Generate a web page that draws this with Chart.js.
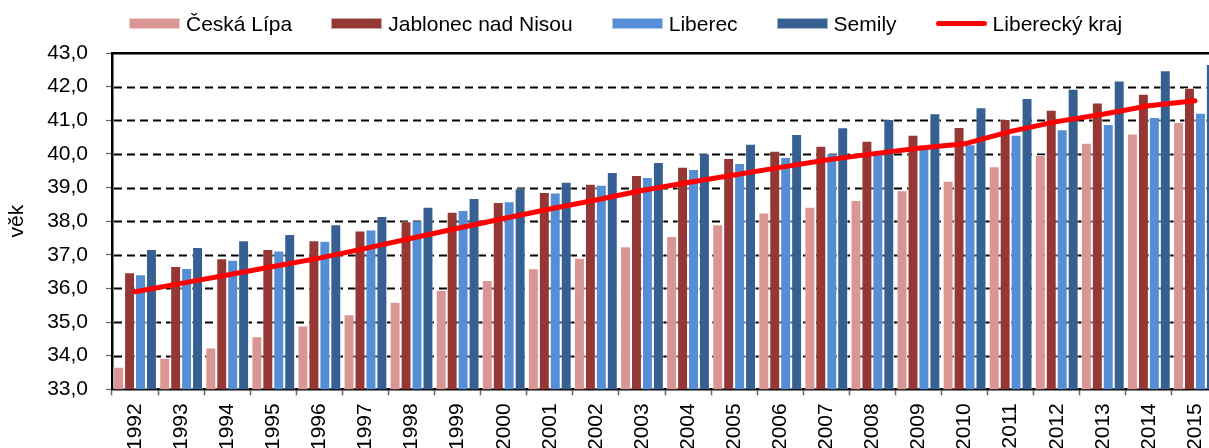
<!DOCTYPE html>
<html lang="cs">
<head>
<meta charset="utf-8">
<title>Průměrný věk</title>
<script src="https://cdn.jsdelivr.net/npm/chart.js@4.4.1/dist/chart.umd.min.js"></script>
<style>
  html, body { margin: 0; padding: 0; background: #fff; overflow: hidden; }
  #wrap { position: relative; width: 1240px; height: 460px; }
  #legend {
    position: absolute; left: 129px; top: 13px;
    display: flex; align-items: center; white-space: nowrap;
    font: 21px "Liberation Sans", Arial, sans-serif; line-height: 21px; color: #000;
  }
  #legend .item { display: flex; align-items: center; margin-right: 39px; }
  #legend .item:last-child { margin-right: 0; }
  #legend .box { display: inline-block; width: 51px; height: 11px; box-sizing: border-box; margin-right: 6px; }
</style>
</head>
<body>
<div id="wrap">
  <canvas id="vekChart" width="1240" height="460"></canvas>
  <div id="legend"></div>
</div>
<script>
const years = ['1992', '1993', '1994', '1995', '1996', '1997', '1998', '1999', '2000', '2001', '2002', '2003',
  '2004', '2005', '2006', '2007', '2008', '2009', '2010', '2011', '2012', '2013', '2014', '2015'];

const ceskaLipa = [33.67, 33.94, 34.24, 34.58, 34.90, 35.23, 35.60, 35.96, 36.25, 36.60, 36.91, 37.25,
  37.56, 37.91, 38.26, 38.43, 38.63, 38.92, 39.20, 39.63, 39.97, 40.33, 40.61, 40.95];
const jablonec = [36.48, 36.67, 36.90, 37.17, 37.43, 37.72, 38.00, 38.28, 38.57, 38.87, 39.11, 39.37,
  39.62, 39.88, 40.09, 40.24, 40.39, 40.57, 40.80, 41.04, 41.31, 41.53, 41.79, 41.97];
const liberec = [36.42, 36.61, 36.85, 37.13, 37.42, 37.75, 38.02, 38.33, 38.59, 38.85, 39.08, 39.31,
  39.55, 39.73, 39.91, 40.02, 40.09, 40.20, 40.29, 40.57, 40.73, 40.89, 41.10, 41.22];
const semily = [37.17, 37.23, 37.43, 37.62, 37.91, 38.15, 38.43, 38.69, 38.98, 39.17, 39.46, 39.76,
  40.02, 40.30, 40.59, 40.79, 41.04, 41.21, 41.39, 41.66, 41.94, 42.18, 42.49, 42.67];
const libereckyKraj = [35.90, 36.15, 36.40, 36.65, 36.90, 37.19, 37.49, 37.79, 38.08, 38.36, 38.63, 38.91,
  39.15, 39.37, 39.60, 39.82, 40.00, 40.17, 40.30, 40.67, 40.96, 41.18, 41.43, 41.58];

const yMin = 33;
const yMax = 43;

const FONT = '"Liberation Sans", Arial, sans-serif';
Chart.defaults.font.family = FONT;
Chart.defaults.font.size = 21;
Chart.defaults.color = '#000';

function barSet(label, data, color) {
  return {
    type: 'bar',
    label: label,
    data: data,
    backgroundColor: color,
    borderColor: 'rgba(255, 255, 255, 0.55)',
    borderWidth: 1,
    barPercentage: 1.0,
    categoryPercentage: 0.95,
    order: 1
  };
}

const datasets = [
  barSet('Česká Lípa', ceskaLipa, '#D99694'),
  barSet('Jablonec nad Nisou', jablonec, '#953735'),
  barSet('Liberec', liberec, '#558ED5'),
  barSet('Semily', semily, '#376092'),
  {
    type: 'line',
    label: 'Liberecký kraj',
    data: libereckyKraj,
    borderColor: '#FF0000',
    borderWidth: 5,
    borderCapStyle: 'round',
    borderJoinStyle: 'round',
    pointRadius: 0,
    tension: 0,
    fill: false,
    order: 0
  }
];

// dashed horizontal grid, drawn under the bars
const dashedGrid = {
  id: 'dashedGrid',
  beforeDatasetsDraw(ch) {
    const {ctx, chartArea} = ch;
    const y = ch.scales.y;
    ctx.save();
    ctx.strokeStyle = '#000';
    ctx.lineWidth = 1.8;
    ctx.setLineDash([8, 5]);
    y.ticks.forEach(t => {
      if (t.value <= yMin || t.value >= yMax) return;
      const py = Math.round(y.getPixelForValue(t.value)) + 0.5;
      ctx.beginPath();
      ctx.moveTo(chartArea.left + 2, py);
      ctx.lineTo(chartArea.right, py);
      ctx.stroke();
    });
    ctx.restore();
  }
};

const chart = new Chart(document.getElementById('vekChart').getContext('2d'), {
  data: { labels: years, datasets: datasets },
  plugins: [dashedGrid],
  options: {
    responsive: false,
    animation: false,
    layout: { padding: { top: 53, right: 22, bottom: 0, left: 0 } },
    plugins: {
      legend: { display: false },
      tooltip: { enabled: false }
    },
    scales: {
      x: {
        position: 'bottom',
        offset: true,
        grid: { offset: true, drawOnChartArea: false, drawTicks: true, tickLength: 6, tickColor: '#666', tickWidth: 1.5 },
        border: { display: true, color: '#000', width: 2.5 },
        ticks: { autoSkip: false, minRotation: 90, maxRotation: 90, padding: 8, color: '#000' },
        afterFit: scale => { scale.height = 70.7; }
      },
      xTop: {
        type: 'category',
        position: 'top',
        grid: { display: false, drawTicks: false },
        ticks: { display: false },
        border: { display: true, color: '#000', width: 2.5 },
        afterFit: scale => { scale.height = 0; }
      },
      y: {
        min: yMin,
        max: yMax,
        grid: { drawOnChartArea: false, tickLength: 6, tickColor: '#666', tickWidth: 1.2 },
        border: { display: true, color: '#000', width: 2.5 },
        ticks: {
          stepSize: 1,
          padding: 18,
          color: '#000',
          callback: value => value.toFixed(1).replace('.', ',')
        },
        title: { display: true, text: 'věk', color: '#000', padding: { top: 5, bottom: 0 } },
        afterFit: scale => { scale.width = 112; }
      }
    }
  }
});

// legend kept as html, built from the datasets
function buildLegend(ch) {
  const box = document.getElementById('legend');
  ch.data.datasets.forEach(ds => {
    const item = document.createElement('span');
    item.className = 'item';
    const sw = document.createElement('span');
    sw.className = 'box';
    if (ds.type === 'line') {
      sw.style.height = ds.borderWidth + 'px';
      sw.style.borderRadius = '3px';
      sw.style.background = ds.borderColor;
    } else {
      sw.style.background = ds.backgroundColor;
      sw.style.border = '1px solid ' + ds.borderColor;
    }
    const txt = document.createElement('span');
    txt.textContent = ds.label;
    item.appendChild(sw);
    item.appendChild(txt);
    box.appendChild(item);
  });
}
buildLegend(chart);
</script>
</body>
</html>
